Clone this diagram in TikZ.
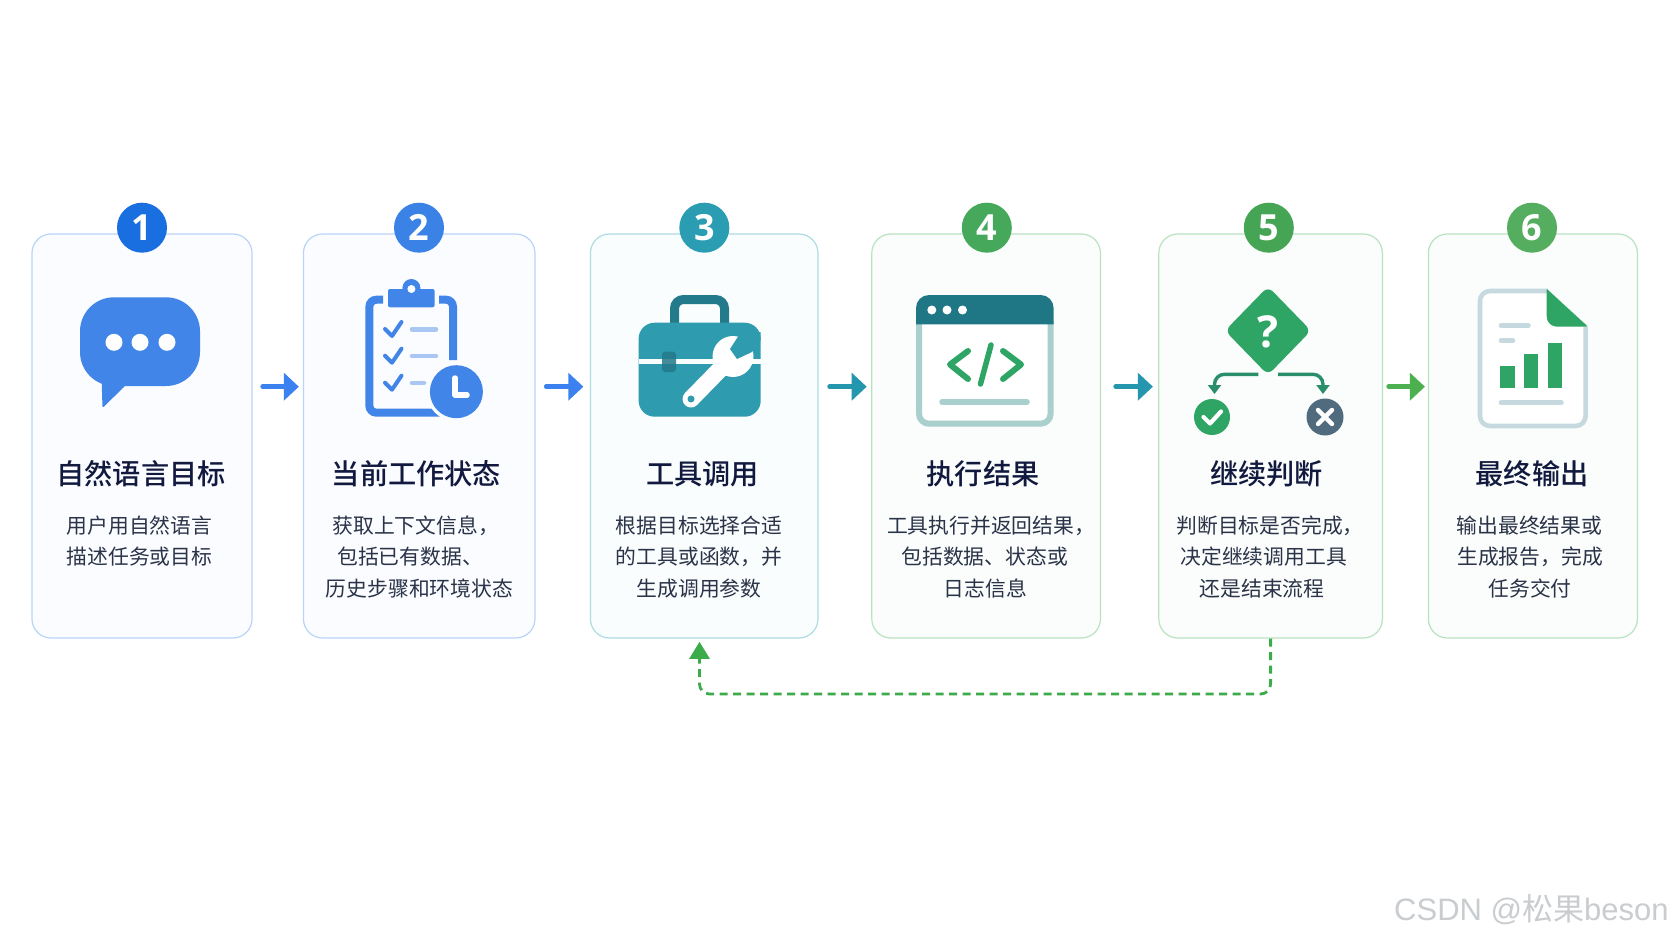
\documentclass[tikz,border=0pt]{standalone}
\usepackage{fontspec}
\setmainfont{Open Sans}
\newfontfamily\cjk{Noto Sans CJK SC}
\newfontfamily\cjkm{Noto Sans CJK SC Medium}
\newfontfamily\wmfont{Liberation Sans}
\usetikzlibrary{arrows.meta}
\definecolor{cb1}{HTML}{FAFCFF}\definecolor{cb2}{HTML}{BAD4F6}
\definecolor{ct1}{HTML}{FAFDFD}\definecolor{ct2}{HTML}{ADDCE2}
\definecolor{cg1}{HTML}{FAFDFB}\definecolor{cg2}{HTML}{B9E2C2}
\definecolor{blueic}{HTML}{4285E8}\definecolor{bluelite}{HTML}{A9C7F2}
\definecolor{tealic}{HTML}{2F9BAE}\definecolor{tealdk}{HTML}{237A8B}
\definecolor{winhd}{HTML}{1F7684}\definecolor{winfr}{HTML}{AAD0CE}
\definecolor{greenic}{HTML}{2FA565}\definecolor{greendk}{HTML}{2A8E6A}
\definecolor{slateic}{HTML}{4F6B7D}\definecolor{docfr}{HTML}{C5D9DE}
\definecolor{titlec}{HTML}{12193F}\definecolor{descc}{HTML}{2A3348}
\definecolor{arrblue}{HTML}{3B82F0}\definecolor{arrteal}{HTML}{2496AE}
\definecolor{arrgreen}{HTML}{4CAF50}\definecolor{loopc}{HTML}{3CAB4A}
\definecolor{wm}{HTML}{C9CDCF}
\tikzset{
  x=1pt,y=-1pt,
  card/.style={rectangle,rounded corners=19pt,line width=1.2pt,inner sep=0pt,minimum height=404pt},
  cardblue/.style={card,draw=cb2,fill=cb1},
  cardteal/.style={card,draw=ct2,fill=ct1},
  cardgreen/.style={card,draw=cg2,fill=cg1},
  badge/.style={circle,minimum size=50pt,inner sep=0pt,text=white,font=\fontsize{36}{36}\selectfont\bfseries},
  ttl/.style={inner sep=0pt,text=titlec,font=\fontsize{28.2}{30}\cjkm},
  dsc/.style={inner sep=0pt,text=descc,font=\fontsize{20.8}{24}\cjk},
  flow/.style={line width=4.5pt,line cap=round,-{Triangle[length=15pt,width=27pt]}},
  iconline/.style={line width=4.5pt,line cap=round},
}
\begin{document}
\begin{tikzpicture}
\useasboundingbox (0,0) rectangle (1672,941);
\fill[white] (0,0) rectangle (1672,941);
% cards
\node[cardblue,minimum width=220pt] (c1) at (142,436) {};
\node[cardblue,minimum width=231.5pt] (c2) at (419.2,436) {};
\node[cardteal,minimum width=227.5pt] (c3) at (704.2,436) {};
\node[cardgreen,minimum width=228.6pt] (c4) at (986.1,436) {};
\node[cardgreen,minimum width=223.6pt] (c5) at (1270.6,436) {};
\node[cardgreen,minimum width=209pt] (c6) at (1532.9,436) {};
% badges
\node[badge,fill={rgb,255:red,26;green,111;blue,224}] (b1) at (142,227.7) {1};
\node[badge,fill={rgb,255:red,59;green,130;blue,230}] (b2) at (419,227.7) {2};
\node[badge,fill={rgb,255:red,42;green,157;blue,178}] (b3) at (704.3,227.7) {3};
\node[badge,fill={rgb,255:red,70;green,168;blue,90}] (b4) at (986.8,227.7) {4};
\node[badge,fill={rgb,255:red,69;green,165;blue,85}] (b5) at (1268.8,227.7) {5};
\node[badge,fill={rgb,255:red,85;green,173;blue,95}] (b6) at (1532,227.7) {6};
% titles
\node[ttl] (t1) at (141,474) {自然语言目标};
\node[ttl] (t2) at (416.5,474) {当前工作状态};
\node[ttl] (t3) at (702.5,474) {工具调用};
\node[ttl] (t4) at (983,474) {执行结果};
\node[ttl] (t5) at (1266.5,474) {继续判断};
\node[ttl] (t6) at (1532,474) {最终输出};
% descriptions
\node[dsc] (d1a) at (139.5,525.5) {用户用自然语言};
\node[dsc] (d1b) at (139.5,557) {描述任务或目标};
\node[dsc] (d2a) at (415.7,525.5) {获取上下文信息，};
\node[dsc] (d2b) at (410,557) {包括已有数据、};
\node[dsc] (d2c) at (419.5,588.5) {历史步骤和环境状态};
\node[dsc] (d3a) at (699,525.5) {根据目标选择合适};
\node[dsc] (d3b) at (699,557) {的工具或函数，并};
\node[dsc] (d3c) at (699,588.5) {生成调用参数};
\node[dsc] (d4a) at (991,525.5) {工具执行并返回结果，};
\node[dsc] (d4b) at (984.6,557) {包括数据、状态或};
\node[dsc] (d4c) at (985.5,588.5) {日志信息};
\node[dsc] (d5a) at (1270,525.5) {判断目标是否完成，};
\node[dsc] (d5b) at (1263.6,557) {决定继续调用工具};
\node[dsc] (d5c) at (1262,588.5) {还是结束流程};
\node[dsc] (d6a) at (1529.5,525.5) {输出最终结果或};
\node[dsc] (d6b) at (1530,557) {生成报告，完成};
\node[dsc] (d6c) at (1530,588.5) {任务交付};
% flow arrows
\draw[flow,arrblue,shorten <=10pt,shorten >=4pt] ([yshift=49.3pt]c1.east) -- ([yshift=49.3pt]c2.west);
\draw[flow,arrblue,shorten <=10.6pt,shorten >=6.5pt] ([yshift=49.3pt]c2.east) -- ([yshift=49.3pt]c3.west);
\draw[flow,arrteal,shorten <=11pt,shorten >=4.5pt] ([yshift=49.3pt]c3.east) -- ([yshift=49.3pt]c4.west);
\draw[flow,arrteal,shorten <=14.6pt,shorten >=5.3pt] ([yshift=49.3pt]c4.east) -- ([yshift=49.3pt]c5.west);
\draw[flow,arrgreen,shorten <=5.6pt,shorten >=2.9pt] ([yshift=49.3pt]c5.east) -- ([yshift=49.3pt]c6.west);
% loop back
\coordinate (rail) at (0,694);
\coordinate (fbtip) at ([xshift=-4.7pt,yshift=-3.2pt]c3.south);
\draw[loopc,line width=2.8pt,rounded corners=10pt,dash pattern=on 8pt off 5.5pt,-{Triangle[length=17pt,width=20pt]}]
  (c5.south) -- (c5.south |- rail) -- (fbtip |- rail) -- (fbtip);
% icon 1 : speech bubble
\fill[blueic,rounded corners=34pt] (80,297.3) rectangle (200,386);
\fill[blueic,rounded corners=1.5pt] (101.5,375) -- (128,380) -- (125,386) -- (102.5,408) -- cycle;
\foreach \x in {114,140,167}{\fill[white] (\x,342.3) circle[radius=8.5];}
% icon 2 : clipboard
\draw[blueic,line width=8pt,rounded corners=7pt] (383,299.7) -- (369.4,299.7) -- (369.4,412.7) -- (440,412.7);
\draw[blueic,line width=8pt,rounded corners=7pt] (439,299.7) -- (453,299.7) -- (453,360);
\fill[blueic,rounded corners=2pt] (388,289) rectangle (434.6,307.3);
\fill[blueic] (411.4,288) circle[radius=9];
\fill[cb1] (411.4,289) circle[radius=4];
\foreach \y in {329,355.7,382.7}{
  \draw[blueic,line width=4pt,line cap=round,line join=round] (385,\y) -- (392,\y+7) -- (401.5,\y-7);
}
\draw[bluelite,iconline] (412,329.3) -- (436,329.3);
\draw[bluelite,iconline] (412,356) -- (436,356);
\draw[bluelite,iconline] (412,383) -- (424,383);
\fill[cb1] (456.4,391.7) circle[radius=30];
\fill[blueic] (456.4,391.7) circle[radius=26.5];
\draw[white,line width=5.5pt,line cap=round,line join=round] (455,378) -- (455,395) -- (467,395);
% icon 3 : toolbox
\draw[tealdk,line width=9pt,rounded corners=9pt] (674.5,324) -- (674.5,299.5) -- (724.5,299.5) -- (724.5,324);
\fill[tealic,rounded corners=16pt] (638.6,322.7) rectangle (760.7,416.7);
\fill[ct1] (638.6,358.5) rectangle (760.7,363.5);
\fill[tealdk,rounded corners=3pt,opacity=.85] (662,351.7) rectangle (676,372);
\draw[white,line width=17pt,line cap=round] (691,399) -- (733,356);
\fill[white] (733,356.5) circle[radius=20.5];
\fill[tealic] (741,332) -- (730,349) -- (737,359) -- (752,352) -- (760.7,340) -- (760.7,332) -- cycle;
\fill[tealic] (691,399) circle[radius=3.5];
% icon 4 : window
\fill[white] (919,320) rectangle (1050.6,423.7);
\draw[winfr,line width=6pt,rounded corners=10pt] (919,322) -- (919,423.7) -- (1050.6,423.7) -- (1050.6,322);
\fill[winhd] (916,324.3) [rounded corners=13pt] -- (916,295) -- (1053.6,295) [sharp corners] -- (1053.6,324.3) -- cycle;
\foreach \x in {931.8,947,962.5}{\fill[white] (\x,310) circle[radius=4.5];}
\draw[greenic,line width=6pt,line cap=round,line join=round] (968,351) -- (950,364.5) -- (968,379);
\draw[greenic,line width=6pt,line cap=round,line join=round] (1003,351) -- (1021,364.5) -- (1003,379);
\draw[greenic,line width=5.5pt,line cap=round] (991,345) -- (980.5,384);
\draw[winfr,line width=5.5pt,line cap=round] (942,402) -- (1027,402);
% icon 5 : decision
\fill[greenic,rounded corners=7pt] (1268,286.5) -- (1311,330.7) -- (1268,375) -- (1225,330.7) -- cycle;
\node[inner sep=0pt,text=white,font=\fontsize{44}{44}\selectfont\bfseries] (qm) at (1268,332) {?};
\draw[greendk,line width=3.4pt,rounded corners=10pt,-{Triangle[length=9pt,width=13pt]}] (1258.4,374.3) -- (1214.5,374.3) -- (1214.5,394);
\draw[greendk,line width=3.4pt,rounded corners=10pt,-{Triangle[length=9pt,width=13pt]}] (1278,374.3) -- (1323,374.3) -- (1323,394);
\fill[greenic] (1212,417) circle[radius=18];
\draw[white,line width=4.2pt,line cap=round,line join=round] (1203.5,417) -- (1210,423.5) -- (1221,411.5);
\fill[slateic] (1325,417) circle[radius=18.5];
\draw[white,line width=4.4pt,line cap=round] (1318,410) -- (1332,424);
\draw[white,line width=4.4pt,line cap=round] (1332,410) -- (1318,424);
% icon 6 : report
\draw[docfr,fill=white,line width=4.6pt,rounded corners=10pt] (1548,291) -- (1480,291) -- (1480,426) -- (1585.6,426) -- (1585.6,327);
\fill[greenic,rounded corners=1pt] (1546.6,288.7) -- (1588,326.7) -- (1556,326.7) -- (1551,325) -- (1547.5,321) -- (1546.6,316) -- cycle;
\fill[greenic] (1500.2,366) rectangle (1515,388.3);
\fill[greenic] (1523.8,354) rectangle (1538.4,388.3);
\fill[greenic] (1547.7,342.7) rectangle (1562.4,388.3);
\draw[docfr,iconline] (1501,325.7) -- (1528.5,325.7);
\draw[docfr,iconline] (1501,340.7) -- (1513,340.7);
\draw[docfr,iconline] (1501,402.7) -- (1561.5,402.7);
% watermark
\node[anchor=west,inner sep=0pt,text=wm,font=\fontsize{31}{34}\wmfont] (wmk) at (1394,910) {CSDN @{\cjk 松果}beson};
\end{tikzpicture}
\end{document}
